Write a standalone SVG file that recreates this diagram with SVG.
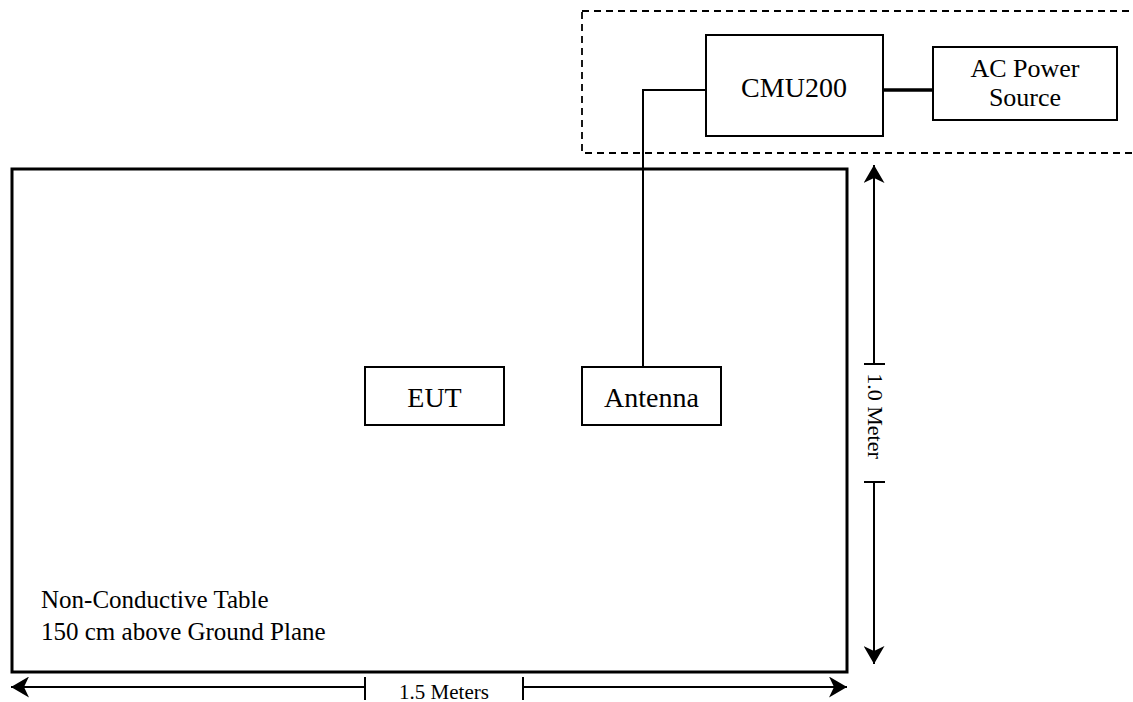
<svg xmlns="http://www.w3.org/2000/svg" width="1133" height="702" viewBox="0 0 1133 702">
<style>
  .box { fill: #ffffff; stroke: #000000; stroke-width: 2; }
  .lbl { font-family: "Liberation Serif", "Times New Roman", serif; font-size: 28px; fill: #000000; text-anchor: middle; }
  .note { font-family: "Liberation Serif", "Times New Roman", serif; font-size: 25px; fill: #000000; }
  .dim { font-family: "Liberation Serif", "Times New Roman", serif; font-size: 21px; fill: #000000; text-anchor: middle; }
  .wire { fill: none; stroke: #000000; stroke-width: 2; }
  .dimline { fill: none; stroke: #000000; stroke-width: 2; }
</style>
<defs>
  <marker id="arr" viewBox="0 0 18 21" refX="18" refY="10.5" markerWidth="18" markerHeight="21" markerUnits="userSpaceOnUse" orient="auto">
    <path d="M0,0 L18,10.5 L0,21 L5,10.5 Z" fill="#000000"/>
  </marker>
</defs>
<rect width="1133" height="702" fill="#ffffff"/>

<g id="enclosure">
  <rect x="582" y="11" width="570" height="142" fill="none" stroke="#000000" stroke-width="1.8" stroke-dasharray="7 5"/>
</g>

<g id="table">
  <rect x="12" y="169" width="835" height="503" fill="none" stroke="#000000" stroke-width="3"/>
  <text class="note" x="41" y="608">Non-Conductive Table</text>
  <text class="note" x="41" y="640">150 cm above Ground Plane</text>
</g>

<g id="connectors">
  <polyline class="wire" points="706,90 643,90 643,367"/>
  <line x1="883" y1="90" x2="933" y2="90" stroke="#000000" stroke-width="3.5"/>
</g>

<g id="cmu200">
  <rect class="box" x="706" y="35" width="177" height="101"/>
  <text class="lbl" x="794" y="97">CMU200</text>
</g>

<g id="ac-power">
  <rect class="box" x="933" y="47" width="184" height="73"/>
  <text class="lbl" x="1025" y="77" style="font-size:26px">AC Power</text>
  <text class="lbl" x="1025" y="106" style="font-size:26px">Source</text>
</g>

<g id="eut">
  <rect class="box" x="365" y="367" width="139" height="58"/>
  <text class="lbl" x="434.5" y="407">EUT</text>
</g>

<g id="antenna">
  <rect class="box" x="582" y="367" width="139" height="58"/>
  <text class="lbl" x="651.5" y="407">Antenna</text>
</g>

<g id="dim-width">
  <line class="dimline" x1="365" y1="687" x2="11" y2="687" marker-end="url(#arr)"/>
  <line class="dimline" x1="523" y1="687" x2="847" y2="687" marker-end="url(#arr)"/>
  <line class="dimline" x1="365" y1="677" x2="365" y2="700"/>
  <line class="dimline" x1="523" y1="677" x2="523" y2="700"/>
  <text class="dim" x="444" y="699">1.5 Meters</text>
</g>

<g id="dim-height">
  <line class="dimline" x1="874" y1="364" x2="874" y2="165" marker-end="url(#arr)"/>
  <line class="dimline" x1="874" y1="482" x2="874" y2="664" marker-end="url(#arr)"/>
  <line class="dimline" x1="864" y1="364" x2="885" y2="364"/>
  <line class="dimline" x1="864" y1="482" x2="885" y2="482"/>
  <text class="dim" x="0" y="0" style="font-size:22px" transform="translate(868,416) rotate(90)">1.0 Meter</text>
</g>
</svg>
